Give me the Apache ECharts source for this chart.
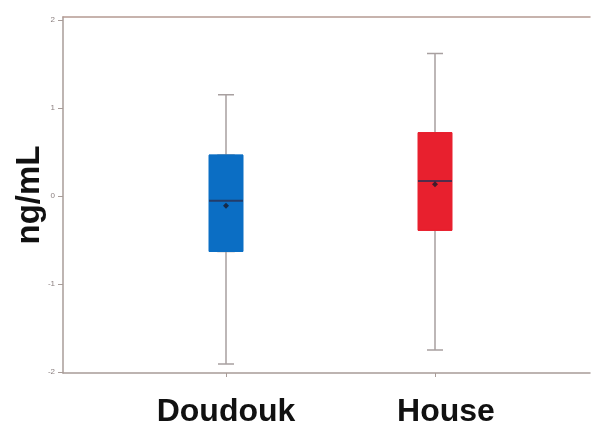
<!DOCTYPE html>
<html><head><meta charset="utf-8">
<script src="https://cdn.jsdelivr.net/npm/echarts@6/dist/echarts.min.js"></script>
<style>html,body{margin:0;padding:0;background:#fff}#c{width:595px;height:424px}</style>
</head><body><div id="c"></div>
<script>
const categories = ['Doudouk', 'House'];
// [lower whisker, Q1, median, Q3, upper whisker]
const boxStats = [
  [-1.91, -0.63, -0.055, 0.465, 1.15],
  [-1.75, -0.39, 0.17, 0.72, 1.62]
];
const means = [-0.11, 0.135];
const yTicks = [-2, -1, 0, 1, 2];
const boxColors = ['#0b6ec4', '#e8202e'];
const yMin = -2.011, yMax = 2.034;

const chart = echarts.init(document.getElementById('c'));
const axisGrey = '#a89c98';
chart.setOption({
  animation: false,
  backgroundColor: '#fff',
  grid: [
    {left: 63, right: 5, top: 17, bottom: 51, outerBoundsMode: 'none', containLabel: false},
    {left: 121.5, right: 55.5, top: 17, bottom: 51, outerBoundsMode: 'none', containLabel: false}
  ],
  xAxis: [
    {type: 'value', gridIndex: 0, min: 0, max: 1, position: 'bottom',
     axisLine: {show: true, onZero: false, lineStyle: {color: axisGrey, width: 1.5}},
     axisTick: {show: false}, axisLabel: {show: false}, splitLine: {show: false}},
    {type: 'value', gridIndex: 0, min: 0, max: 1, position: 'top',
     axisLine: {show: true, onZero: false, lineStyle: {color: '#b59a92', width: 1.5}},
     axisTick: {show: false}, axisLabel: {show: false}, splitLine: {show: false}},
    {type: 'category', gridIndex: 1, position: 'bottom', data: categories.map((c, i) => i === 1 ? {value: c, textStyle: {padding: [0, 0, 0, 22]}} : c),
     axisLine: {show: false, onZero: false},
     axisTick: {show: true, alignWithLabel: true, length: 4, lineStyle: {color: axisGrey}},
     axisLabel: {margin: 23, fontFamily: 'Liberation Sans, Arial, sans-serif', fontWeight: 'bold', fontSize: 32, color: '#111'}},
    {type: 'category', gridIndex: 1, data: categories, show: false, axisLine: {onZero: false}}
  ],
  yAxis: [
    {type: 'value', gridIndex: 0, min: yMin, max: yMax,
     name: 'ng/mL', nameLocation: 'middle', nameGap: 17, nameMoveOverlap: false,
     nameTextStyle: {fontFamily: 'Liberation Sans, Arial, sans-serif', fontWeight: 'bold', fontSize: 33, color: '#111'},
     axisLine: {show: true, onZero: false, lineStyle: {color: axisGrey, width: 1.5}},
     axisTick: {show: true, length: 5, customValues: yTicks, lineStyle: {color: axisGrey}},
     axisLabel: {customValues: yTicks, fontSize: 8, color: '#8a7f7f', margin: 8, formatter: v => String(v)},
     splitLine: {show: false}},
    {type: 'value', gridIndex: 1, min: yMin, max: yMax, show: false, splitLine: {show: false}}
  ],
  series: [
    {type: 'boxplot', xAxisIndex: 3, yAxisIndex: 1, boxWidth: [16, 16], z: 2,
     itemStyle: {color: '#a8a0a0', borderColor: '#a8a0a0', borderWidth: 1.5},
     data: boxStats},
    {type: 'boxplot', xAxisIndex: 2, yAxisIndex: 1, boxWidth: [34, 34], z: 3,
     data: boxStats.map((b, i) => ({value: [b[1], b[1], b[2], b[3], b[3]],
       itemStyle: {color: boxColors[i], borderColor: boxColors[i], borderWidth: 1}}))},
    {type: 'scatter', xAxisIndex: 2, yAxisIndex: 1, z: 4, symbol: 'rect', symbolSize: [34, 2],
     itemStyle: {color: '#2a2f52'},
     data: boxStats.map((b, i) => [i, b[2]])},
    {type: 'scatter', xAxisIndex: 2, yAxisIndex: 1, z: 5, symbol: 'diamond', symbolSize: 6,
     itemStyle: {color: '#1a1a2a'},
     data: means.map((m, i) => [i, m])}
  ]
});
</script></body></html>
